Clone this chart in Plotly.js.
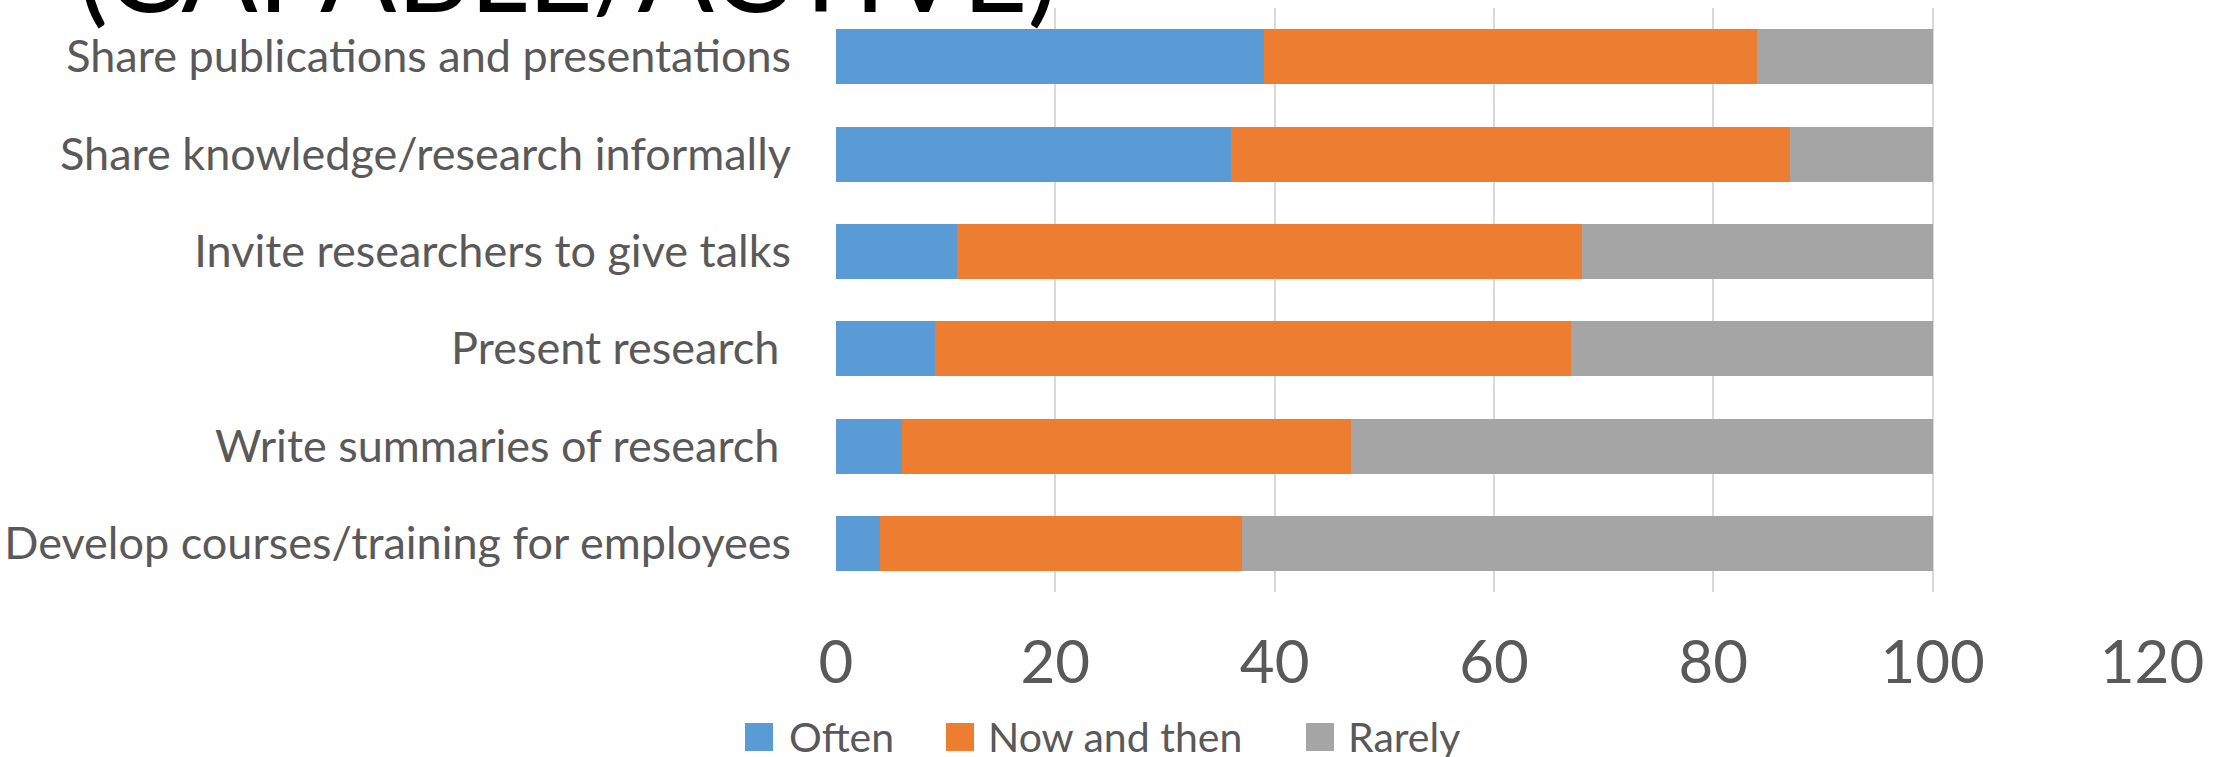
<!DOCTYPE html>
<html>
<head>
<meta charset="utf-8">
<script src="https://cdn.plot.ly/plotly-3.0.1.min.js"></script>
<style>
  html, body { margin: 0; padding: 0; background: #ffffff; }
  #chart { width: 2214px; height: 757px; }
</style>
</head>
<body>
<div id="chart"></div>
<script>
// Categories, listed top to bottom as in the chart
const categories = [
  "Share publications and presentations",
  "Share knowledge/research informally",
  "Invite researchers to give talks",
  "Present research\u00a0",
  "Write summaries of research\u00a0",
  "Develop courses/training for employees"
];
const seriesNames = ["Often", "Now and then", "Rarely"];
const often      = [39, 36, 11,  9,  6,  4];
const nowAndThen = [45, 51, 57, 58, 41, 33];
const rarely     = [16, 13, 32, 33, 53, 63];
const xTicks = [0, 20, 40, 60, 80, 100, 120];
const titleText = "(CAPABLE/ACTIVE)";

const colors = ["#5B9BD5", "#ED7D31", "#A5A5A5"];
const values = [often, nowAndThen, rarely];
const FONT = "Lato, 'Open Sans', sans-serif";

const traces = values.map((vals, i) => ({
  type: "bar",
  orientation: "h",
  name: seriesNames[i],
  x: vals,
  y: categories,
  marker: { color: colors[i], line: { width: 0 } },
  showlegend: false,
  hoverinfo: "x+y+name"
}));

const W = 2214, H = 757;
const plotL = 836, plotR = 2152, plotT = 8, plotB = 592;
const px2x = px => (px - plotL) / (plotR - plotL);
const px2y = py => (plotB - py) / (plotB - plotT);

// legend (drawn as swatches + text, placed like the reference)
const legendSwatchLeft = [745, 946, 1306];
const legendTextLeft = [787, 986, 1346];
const legendTop = 723, legendSize = 28, legendMid = 736;

const shapes = seriesNames.map((n, i) => ({
  type: "rect",
  xref: "paper", yref: "paper",
  x0: px2x(legendSwatchLeft[i]), x1: px2x(legendSwatchLeft[i] + legendSize),
  y0: px2y(legendTop + legendSize), y1: px2y(legendTop),
  fillcolor: colors[i],
  line: { width: 0 }
}));

const annotations = seriesNames.map((n, i) => ({
  text: n,
  xref: "paper", yref: "paper",
  x: px2x(legendTextLeft[i]),
  y: px2y(legendMid),
  xanchor: "left", yanchor: "middle",
  showarrow: false,
  font: { size: 41, color: "#595959", family: FONT }
}));

annotations.push({
  text: titleText,
  xref: "paper",
  yref: "paper",
  x: px2x(568),
  y: px2y(38),
  xanchor: "center",
  yanchor: "bottom",
  showarrow: false,
  font: { size: 113, color: "#000000", family: FONT }
});

const layout = {
  width: W,
  height: H,
  autosize: false,
  paper_bgcolor: "#ffffff",
  plot_bgcolor: "#ffffff",
  barmode: "stack",
  bargap: 0.435,
  margin: { l: plotL, r: W - plotR, t: plotT, b: H - plotB, pad: 0 },
  font: { family: FONT, color: "#595959" },
  xaxis: {
    range: [0, 120],
    tickvals: xTicks,
    ticktext: xTicks.map(String),
    showgrid: true,
    gridcolor: "#D9D9D9",
    gridwidth: 2,
    zeroline: false,
    showline: false,
    ticks: "",
    ticklabelstandoff: 30,
    tickfont: { size: 60, color: "#595959", family: FONT },
    fixedrange: true
  },
  yaxis: {
    type: "category",
    categoryorder: "array",
    categoryarray: categories,
    autorange: "reversed",
    showgrid: false,
    zeroline: false,
    showline: false,
    ticks: "",
    ticklabelstandoff: 44,
    tickfont: { size: 45, color: "#595959", family: FONT },
    fixedrange: true
  },
  showlegend: false,
  shapes: shapes,
  annotations: annotations
};

Plotly.newPlot("chart", traces, layout, { displayModeBar: false });
</script>
</body>
</html>
